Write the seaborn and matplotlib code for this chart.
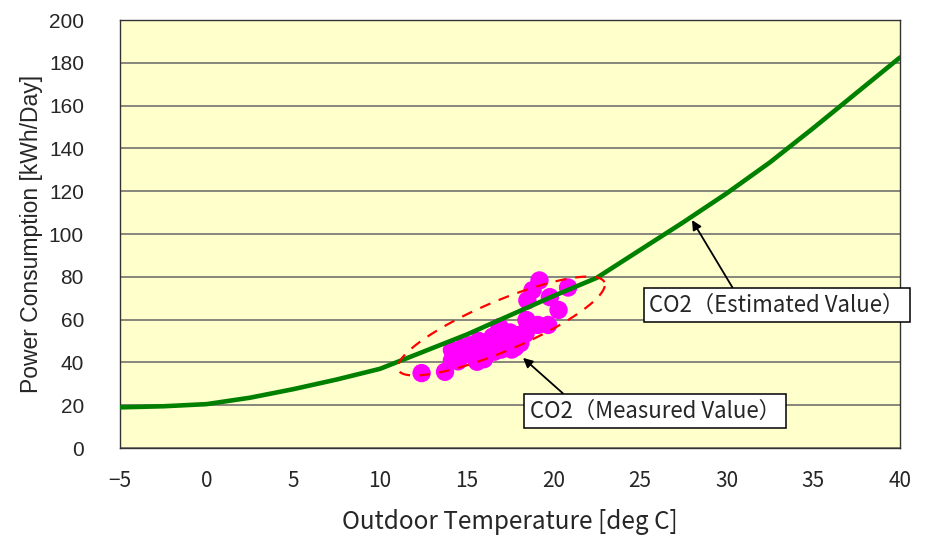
import numpy as np
import matplotlib.pyplot as plt
import seaborn as sns

# estimated curve
temp_curve = [-5, -2.5, 0, 2.5, 5, 7.5, 10, 12.5, 15, 17.5, 20,
              22.5, 25, 27.5, 30, 32.5, 35, 37.5, 40]
power_curve = [19.0, 19.5, 20.5, 23.5, 27.5, 32.0, 37.0, 45.0, 53.0, 62.0, 71.0,
               79.5, 92.5, 105.5, 119.0, 133.5, 149.5, 166.0, 182.5]

# measured points
temp_meas = [12.4, 13.75, 14.15, 14.15, 14.6, 15.2, 15.6, 15.0, 15.8, 16.15,
             16.4, 16.7, 16.9, 17.0, 17.3, 17.5, 17.5, 17.8, 18.1, 18.1,
             18.4, 18.45, 18.5, 18.8, 19.2, 19.1, 19.7, 19.8, 20.3, 20.85,
             16.5, 15.5, 17.2, 14.5, 15.3, 16.0, 16.6, 17.1, 17.6, 18.0,
             16.2, 14.8, 15.7]
power_meas = [35.0, 35.6, 41.0, 45.8, 43.0, 48.0, 40.3, 44.0, 46.0, 44.2,
              48.0, 50.5, 56.5, 46.0, 52.0, 49.0, 54.0, 47.0, 49.0, 53.0,
              53.5, 59.8, 69.0, 73.8, 78.3, 57.5, 57.5, 70.5, 64.5, 75.0,
              52.0, 47.5, 50.0, 40.5, 43.5, 41.5, 45.0, 47.5, 46.0, 51.0,
              49.5, 47.0, 50.0]

x_ticks = list(range(-5, 41, 5))
y_ticks = list(range(0, 201, 20))

sns.set_style("white")
fig = plt.figure(figsize=(9.25, 5.35), dpi=100)
ax = fig.add_axes([120 / 925, 87 / 535, 780 / 925, 428 / 535])
ax.set_facecolor("#FFFFCC")

sns.scatterplot(x=temp_meas, y=power_meas, color="#FF00FF", s=175,
                edgecolor="none", ax=ax, zorder=3)
sns.lineplot(x=temp_curve, y=power_curve, color="#008000", linewidth=3.3,
             ax=ax, zorder=4)

ax.set_xlim(-5, 40)
ax.set_ylim(0, 200)
ax.set_xticks(x_ticks)
ax.set_yticks(y_ticks)
ax.set_xticklabels(["\u22125" if t < 0 else str(t) for t in x_ticks])
ax.yaxis.grid(True, color="#666666", linewidth=1.1)
ax.set_axisbelow(True)
for s in ax.spines.values():
    s.set_color("#333333")
    s.set_linewidth(1.0)

ax.tick_params(axis="x", direction="in", length=5, width=1, color="#333333",
               pad=16, labelsize=15)
ax.tick_params(axis="y", length=0, pad=26, labelsize=15)
for lab in ax.get_xticklabels():
    lab.set_family(["Noto Sans CJK JP", "DejaVu Sans"])
for lab in ax.get_yticklabels():
    lab.set_family("Liberation Sans")

ax.set_xlabel("Outdoor Temperature [deg C]", fontsize=17.5,
              family=["Noto Sans CJK JP", "DejaVu Sans"])
ax.set_ylabel("Power Consumption [kWh/Day]", fontsize=16.5,
              family="Liberation Sans")
ax.xaxis.set_label_coords(0.5, -0.173)
ax.xaxis.label.set_va("center")
ax.yaxis.set_label_coords(-0.113, 0.5)
ax.yaxis.label.set_va("center")

# dashed ellipse around measured points (built in pixel units)
sx, sy = 780 / 45, 428 / 200
t = np.linspace(0, 2 * np.pi, 300)
a, b, th = 112, 25, np.radians(23)
px = a * np.cos(t) * np.cos(th) - b * np.sin(t) * np.sin(th)
py = a * np.cos(t) * np.sin(th) + b * np.sin(t) * np.cos(th)
ax.plot(17.0 + px / sx, 57.0 + py / sy, color="red", linewidth=1.6,
        linestyle=(0, (5, 4)), zorder=5)

box = dict(boxstyle="square,pad=0.25", facecolor="white", edgecolor="black",
           linewidth=1.1)
arrow = dict(arrowstyle="-|>", color="black", linewidth=1.3,
             mutation_scale=14, shrinkA=0, shrinkB=0)
ax.annotate("CO2（Estimated Value）", xy=(28.0, 106.5), xytext=(32.9, 66.8),
            ha="center", va="center", fontsize=16,
            family=["Noto Sans CJK JP", "DejaVu Sans"], bbox=box,
            arrowprops=dict(arrow, relpos=(0.34, 1.0)), zorder=6,
            annotation_clip=False)
ax.annotate("CO2（Measured Value）", xy=(18.25, 42.1), xytext=(25.87, 17.3),
            ha="center", va="center", fontsize=16,
            family=["Noto Sans CJK JP", "DejaVu Sans"], bbox=box,
            arrowprops=dict(arrow, relpos=(0.16, 1.0)), zorder=6)

fig.savefig("out.png", dpi=100)
